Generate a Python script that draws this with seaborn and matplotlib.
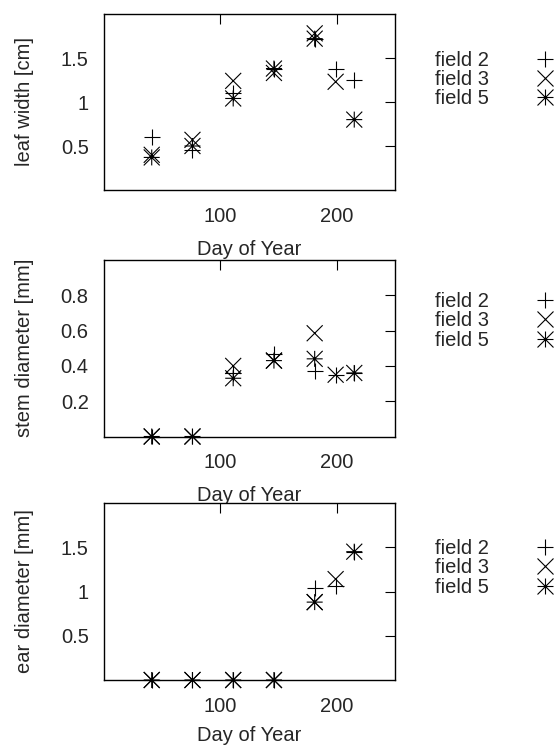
import matplotlib
matplotlib.use("Agg")
import matplotlib.pyplot as plt
from matplotlib.path import Path
from matplotlib.markers import MarkerStyle
from matplotlib.lines import Line2D
import pandas as pd
import seaborn as sns

# ---- data -------------------------------------------------------------
fields = ["field 2", "field 3", "field 5"]

days_f2 = [41, 76, 111, 146, 181, 199, 215]
days_f3 = [41, 76, 111, 146, 181, 199]
days_f5 = [41, 76, 111, 146, 181, 215]

leaf_f2 = [0.60, 0.45, 1.10, 1.37, 1.72, 1.38, 1.25]
leaf_f3 = [0.40, 0.57, 1.24, 1.33, 1.78, 1.23]
leaf_f5 = [0.37, 0.50, 1.04, 1.38, 1.72, 0.80]

stem_f2 = [0.0, 0.0, 0.36, 0.47, 0.37, 0.35, 0.36]
stem_f3 = [0.0, 0.0, 0.40, 0.43, 0.585, 0.35]
stem_f5 = [0.0, 0.0, 0.33, 0.43, 0.44, 0.36]

ear_f2 = [0.0, 0.0, 0.0, 0.0, 1.04, 1.06, 1.45]
ear_f3 = [0.0, 0.0, 0.0, 0.0, 0.88, 1.14]
ear_f5 = [0.0, 0.0, 0.0, 0.0, 0.88, 1.45]

day_ticks = [100, 200]
day_tick_labels = ["100", "200"]
leaf_ticks = [0.5, 1.0, 1.5]
leaf_tick_labels = ["0.5", "1", "1.5"]
stem_ticks = [0.2, 0.4, 0.6, 0.8]
stem_tick_labels = ["0.2", "0.4", "0.6", "0.8"]
ear_ticks = [0.5, 1.0, 1.5]
ear_tick_labels = ["0.5", "1", "1.5"]

x_label = "Day of Year"
y_labels = ["leaf width [cm]", "stem diameter [mm]", "ear diameter [mm]"]

# ---- style ------------------------------------------------------------
sns.set_style("white")
FS = 14.5
plt.rcParams["font.family"] = ["Liberation Sans", "DejaVu Sans"]
plt.rcParams["axes.linewidth"] = 1.0

# gnuplot-like asterisk: a plus and a cross overlaid
asterisk_path = Path(
    [(-1, 0), (1, 0), (0, -1), (0, 1), (-1, -1), (1, 1), (-1, 1), (1, -1)],
    [Path.MOVETO, Path.LINETO] * 4,
)
asterisk = MarkerStyle(asterisk_path, fillstyle="none")
marker_map = {"field 2": "+", "field 3": "x", "field 5": asterisk}


def long_frame(days_list, vals_list):
    parts = []
    for name, d, v in zip(fields, days_list, vals_list):
        parts.append(pd.DataFrame({"day": d, "value": v, "field": name}))
    return pd.concat(parts, ignore_index=True)


panels = [
    (long_frame([days_f2, days_f3, days_f5], [leaf_f2, leaf_f3, leaf_f5]),
     (0, 2), leaf_ticks, leaf_tick_labels),
    (long_frame([days_f2, days_f3, days_f5], [stem_f2, stem_f3, stem_f5]),
     (0, 1), stem_ticks, stem_tick_labels),
    (long_frame([days_f2, days_f3, days_f5], [ear_f2, ear_f3, ear_f5]),
     (0, 2), ear_ticks, ear_tick_labels),
]

W, H = 558, 745
rects = [
    (104, 14, 395, 190),
    (104, 260, 395, 436.5),
    (104, 503, 395, 680),
]
xlabel_y = [-0.284, -0.280, -0.262]
legend_top = [0.792, 0.819, 0.797]

fig = plt.figure(figsize=(W / 100, H / 100), dpi=100)

MS = 11.5  # marker size in points
for i, ((df, ylim, yt, ytl), (l, t, r, b)) in enumerate(zip(panels, rects)):
    ax = fig.add_axes([l / W, 1 - b / H, (r - l) / W, (b - t) / H])
    sns.scatterplot(
        data=df, x="day", y="value", style="field", markers=marker_map,
        color="black", s=MS ** 2, linewidth=0.8, legend=False,
        clip_on=False, zorder=3, ax=ax,
    )
    ax.set_xlim(0, 250)
    ax.set_ylim(*ylim)
    ax.set_xticks(day_ticks)
    ax.set_xticklabels(day_tick_labels)
    ax.set_yticks(yt)
    ax.set_yticklabels(ytl)
    ax.tick_params(direction="in", length=7.2, width=0.8, labelsize=FS,
                   top=True, right=True, color="black")
    ax.tick_params(axis="x", pad=12)
    ax.tick_params(axis="y", pad=11)
    for s in ax.spines.values():
        s.set_visible(True)
        s.set_color("black")
    ax.set_xlabel(x_label, fontsize=FS)
    ax.set_ylabel(y_labels[i], fontsize=FS)
    ax.xaxis.set_label_coords(0.5, xlabel_y[i])
    ax.xaxis.label.set_verticalalignment("top")
    ax.yaxis.set_label_coords((34 - l) / (r - l), 0.5)

    handles = [
        Line2D([], [], linestyle="none", marker=marker_map[f], color="black",
               markersize=MS, markeredgewidth=0.8, markerfacecolor="none")
        for f in fields
    ]
    ax.legend(
        handles, fields, loc="upper left",
        bbox_to_anchor=((435 - l) / (r - l), legend_top[i]),
        frameon=False, markerfirst=False, fontsize=FS,
        borderpad=0, borderaxespad=0, labelspacing=0.02,
        handlelength=0.8, handletextpad=2.4,
    )

fig.savefig("out.png", dpi=100)
